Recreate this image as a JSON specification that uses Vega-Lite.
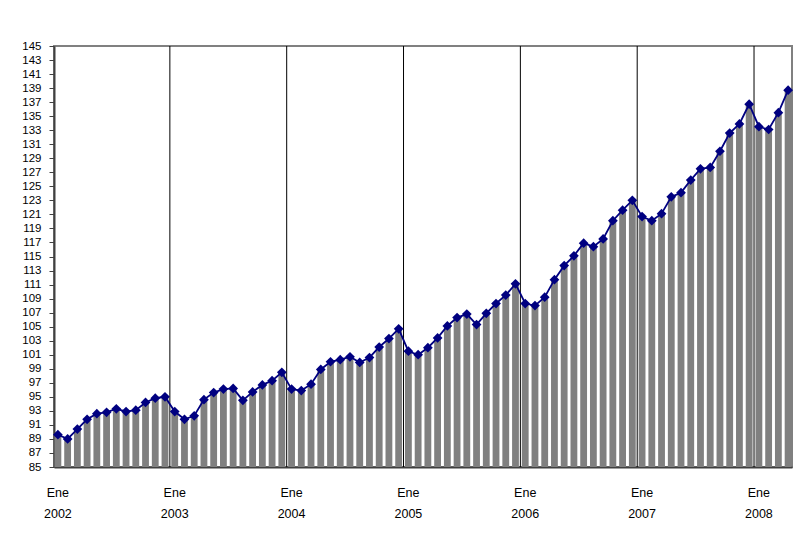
{
  "$schema": "https://vega.github.io/schema/vega-lite/v6.json",
  "autosize": "none",
  "width": 738,
  "height": 421,
  "padding": {"left": 54, "top": 46, "right": 10, "bottom": 70},
  "background": "white",
  "config": {
    "view": {"stroke": "#808080", "strokeWidth": 2},
    "font": "Liberation Sans",
    "axisX": {
      "title": null,
      "labelAngle": 0,
      "labelOverlap": false,
      "labelFontSize": 12.5,
      "labelColor": "#000000",
      "labelLineHeight": 21,
      "labelPadding": 19,
      "ticks": false,
      "domainColor": "#404040",
      "domainWidth": 2,
      "grid": false
    },
    "axisY": {
      "title": null,
      "labelOverlap": false,
      "labelFontSize": 11.5,
      "labelColor": "#000000",
      "labelPadding": 8,
      "ticks": true,
      "tickSize": 5,
      "tickColor": "#404040",
      "domainColor": "#404040",
      "domainWidth": 2,
      "grid": false
    }
  },
  "data": {
    "values": [
      {"m": "2002-01", "v": 89.6}, {"m": "2002-02", "v": 89.0}, {"m": "2002-03", "v": 90.4}, {"m": "2002-04", "v": 91.8},
      {"m": "2002-05", "v": 92.6}, {"m": "2002-06", "v": 92.8}, {"m": "2002-07", "v": 93.3}, {"m": "2002-08", "v": 92.9},
      {"m": "2002-09", "v": 93.1}, {"m": "2002-10", "v": 94.2}, {"m": "2002-11", "v": 94.8}, {"m": "2002-12", "v": 95.0},
      {"m": "2003-01", "v": 92.9}, {"m": "2003-02", "v": 91.8}, {"m": "2003-03", "v": 92.3}, {"m": "2003-04", "v": 94.6},
      {"m": "2003-05", "v": 95.6}, {"m": "2003-06", "v": 96.1}, {"m": "2003-07", "v": 96.2}, {"m": "2003-08", "v": 94.5},
      {"m": "2003-09", "v": 95.7}, {"m": "2003-10", "v": 96.7}, {"m": "2003-11", "v": 97.3}, {"m": "2003-12", "v": 98.5},
      {"m": "2004-01", "v": 96.1}, {"m": "2004-02", "v": 95.9}, {"m": "2004-03", "v": 96.8}, {"m": "2004-04", "v": 98.9},
      {"m": "2004-05", "v": 100.0}, {"m": "2004-06", "v": 100.3}, {"m": "2004-07", "v": 100.7}, {"m": "2004-08", "v": 99.9},
      {"m": "2004-09", "v": 100.6}, {"m": "2004-10", "v": 102.1}, {"m": "2004-11", "v": 103.3}, {"m": "2004-12", "v": 104.7},
      {"m": "2005-01", "v": 101.5}, {"m": "2005-02", "v": 101.0}, {"m": "2005-03", "v": 102.0}, {"m": "2005-04", "v": 103.4},
      {"m": "2005-05", "v": 105.1}, {"m": "2005-06", "v": 106.3}, {"m": "2005-07", "v": 106.8}, {"m": "2005-08", "v": 105.3},
      {"m": "2005-09", "v": 106.9}, {"m": "2005-10", "v": 108.3}, {"m": "2005-11", "v": 109.5}, {"m": "2005-12", "v": 111.1},
      {"m": "2006-01", "v": 108.3}, {"m": "2006-02", "v": 108.0}, {"m": "2006-03", "v": 109.2}, {"m": "2006-04", "v": 111.7},
      {"m": "2006-05", "v": 113.7}, {"m": "2006-06", "v": 115.1}, {"m": "2006-07", "v": 116.9}, {"m": "2006-08", "v": 116.4},
      {"m": "2006-09", "v": 117.5}, {"m": "2006-10", "v": 120.1}, {"m": "2006-11", "v": 121.6}, {"m": "2006-12", "v": 123.0},
      {"m": "2007-01", "v": 120.7}, {"m": "2007-02", "v": 120.1}, {"m": "2007-03", "v": 121.1}, {"m": "2007-04", "v": 123.5},
      {"m": "2007-05", "v": 124.1}, {"m": "2007-06", "v": 125.9}, {"m": "2007-07", "v": 127.5}, {"m": "2007-08", "v": 127.7},
      {"m": "2007-09", "v": 130.0}, {"m": "2007-10", "v": 132.6}, {"m": "2007-11", "v": 133.9}, {"m": "2007-12", "v": 136.7},
      {"m": "2008-01", "v": 133.5}, {"m": "2008-02", "v": 133.1}, {"m": "2008-03", "v": 135.5}, {"m": "2008-04", "v": 138.7}
    ]
  },
  "encoding": {
    "x": {
      "field": "m",
      "type": "ordinal",
      "scale": {"paddingInner": 0.3, "paddingOuter": 0.05},
      "axis": {
        "labelExpr": "slice(datum.value,5)=='01' ? ['Ene', slice(datum.value,0,4)] : ''"
      }
    },
    "y": {
      "field": "v",
      "type": "quantitative",
      "scale": {"domain": [85, 145], "nice": false, "zero": false},
      "axis": {
        "values": [85,87,89,91,93,95,97,99,101,103,105,107,109,111,113,115,117,119,121,123,125,127,129,131,133,135,137,139,141,143,145]
      }
    }
  },
  "layer": [
    {"mark": {"type": "bar", "color": "#808080", "clip": true}},
    {
      "transform": [{"filter": "slice(datum.m,5)=='01' && datum.m != '2002-01'"}],
      "mark": {"type": "rule", "color": "#000000", "strokeWidth": 1},
      "encoding": {
        "x": {
          "field": "m",
          "type": "ordinal",
          "bandPosition": -0.214,
          "axis": {
            "labelExpr": "slice(datum.value,5)=='01' ? ['Ene', slice(datum.value,0,4)] : ''"
          }
        },
        "y": {
          "datum": 85,
          "type": "quantitative",
          "axis": {
            "values": [85,87,89,91,93,95,97,99,101,103,105,107,109,111,113,115,117,119,121,123,125,127,129,131,133,135,137,139,141,143,145]
          }
        },
        "y2": {"datum": 145}
      }
    },
    {"mark": {"type": "line", "color": "#000080", "strokeWidth": 1.8, "point": {"shape": "diamond", "size": 95, "filled": true, "color": "#000080"}}}
  ]
}
